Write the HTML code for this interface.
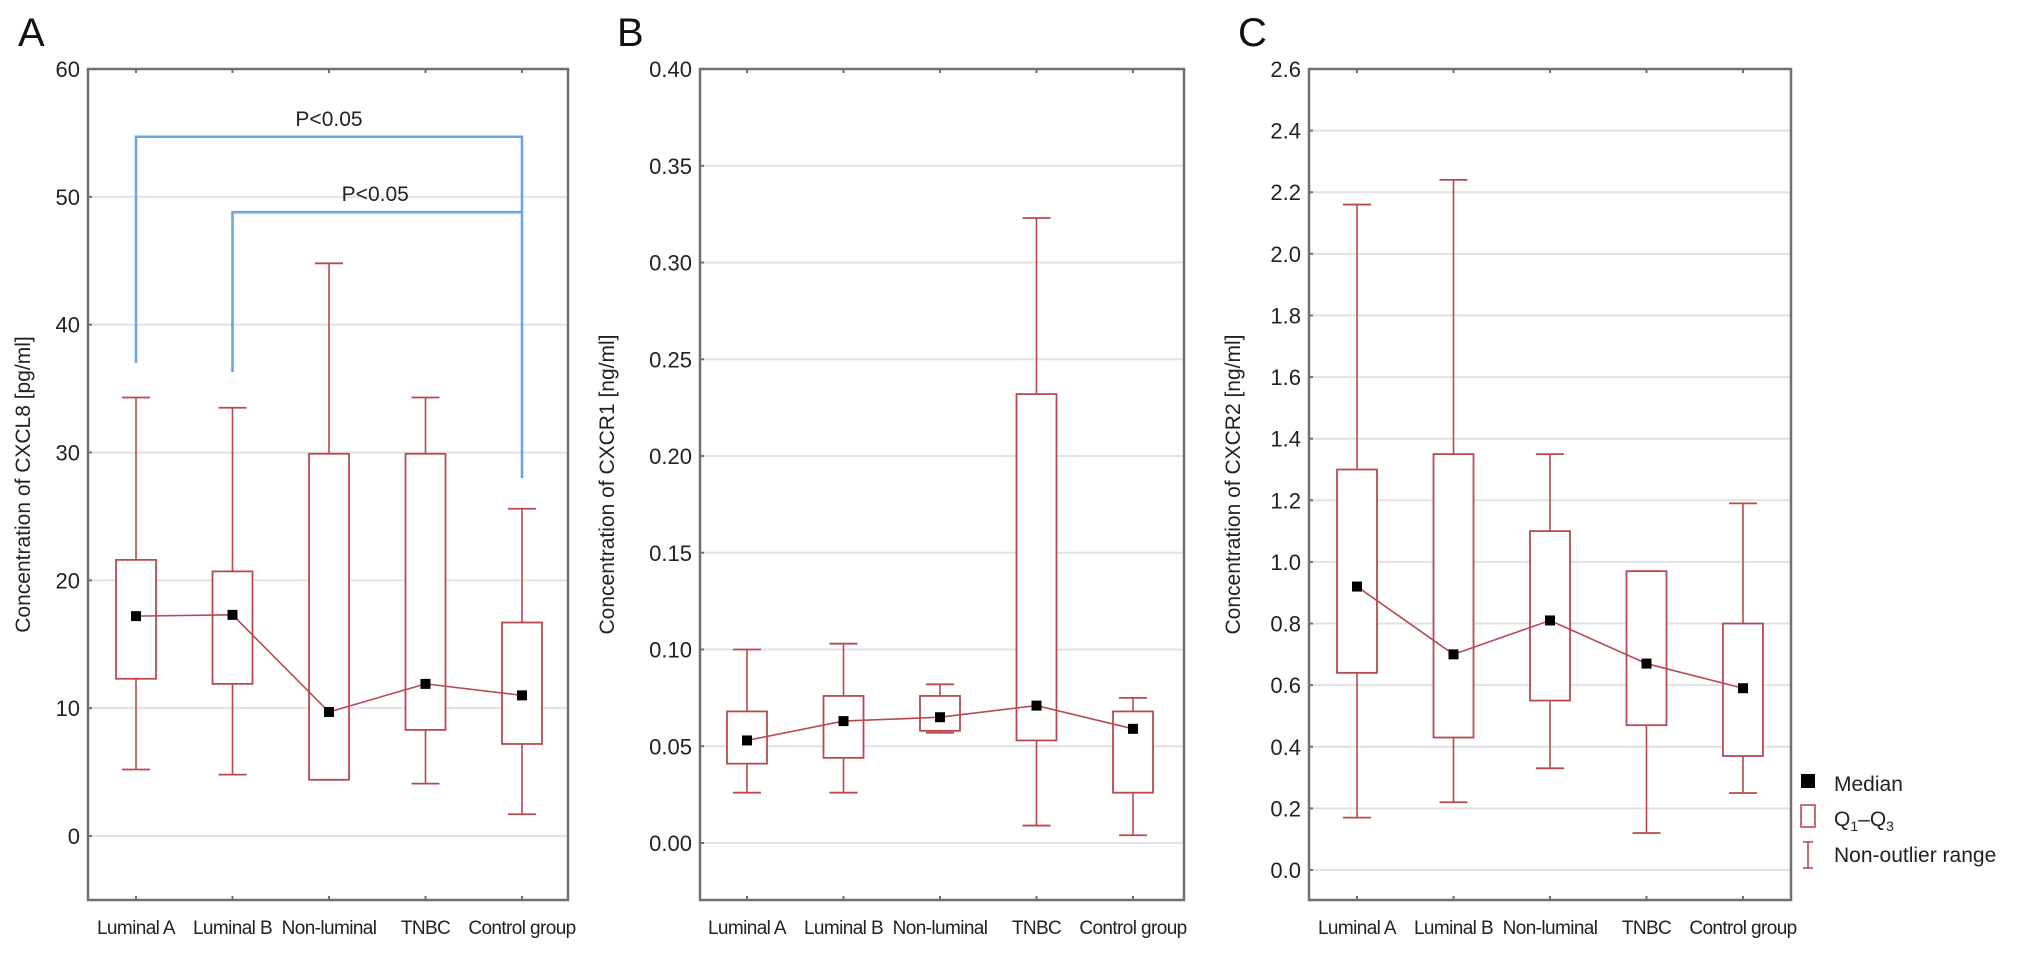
<!DOCTYPE html>
<html><head><meta charset="utf-8"><style>
html,body{margin:0;padding:0;background:#fff;}
svg{display:block;font-family:"Liberation Sans",sans-serif;}
</style></head>
<body>
<svg id="fig" width="2032" height="954" viewBox="0 0 2032 954"></svg>
<script>
const categories = ["Luminal A","Luminal B","Non-luminal","TNBC","Control group"];
// Panel A: CXCL8
const aMedian = [17.2, 17.3, 9.7, 11.9, 11.0];
const aQ1 = [12.3, 11.9, 4.4, 8.3, 7.2];
const aQ3 = [21.6, 20.7, 29.9, 29.9, 16.7];
const aMin = [5.2, 4.8, 4.4, 4.1, 1.7];
const aMax = [34.3, 33.5, 44.8, 34.3, 25.6];
const aTicks = [0, 10, 20, 30, 40, 50, 60];
const aTickLabels = ["0","10","20","30","40","50","60"];
// Panel B: CXCR1
const bMedian = [0.053, 0.063, 0.065, 0.071, 0.059];
const bQ1 = [0.041, 0.044, 0.058, 0.053, 0.026];
const bQ3 = [0.068, 0.076, 0.076, 0.232, 0.068];
const bMin = [0.026, 0.026, 0.057, 0.009, 0.004];
const bMax = [0.100, 0.103, 0.082, 0.323, 0.075];
const bTicks = [0, 0.05, 0.10, 0.15, 0.20, 0.25, 0.30, 0.35, 0.40];
const bTickLabels = ["0.00","0.05","0.10","0.15","0.20","0.25","0.30","0.35","0.40"];
// Panel C: CXCR2
const cMedian = [0.92, 0.70, 0.81, 0.67, 0.59];
const cQ1 = [0.64, 0.43, 0.55, 0.47, 0.37];
const cQ3 = [1.30, 1.35, 1.10, 0.97, 0.80];
const cMin = [0.17, 0.22, 0.33, 0.12, 0.25];
const cMax = [2.16, 2.24, 1.35, 0.97, 1.19];
const cTicks = [0,0.2,0.4,0.6,0.8,1.0,1.2,1.4,1.6,1.8,2.0,2.2,2.4,2.6];
const cTickLabels = ["0.0","0.2","0.4","0.6","0.8","1.0","1.2","1.4","1.6","1.8","2.0","2.2","2.4","2.6"];
// Significance brackets (panel A)
const bracketFrom = [0, 1];
const bracketTo = [4, 4];
const bracketLeftEnd = [37.0, 36.3];
const bracketTop = [54.7, 48.8];
const bracketRightEnd = [28.0, 48.8];
const bracketLabels = ["P<0.05", "P<0.05"];

const NS = "http://www.w3.org/2000/svg";
const svg = document.getElementById("fig");
const BOX = "#b84a4f", GRID = "#e2e2e2", FRAME = "#707070";
function mk(tag, attrs, parent, text){
  const e = document.createElementNS(NS, tag);
  for (const k in attrs) e.setAttribute(k, attrs[k]);
  if (text !== undefined) e.textContent = text;
  (parent || svg).appendChild(e);
  return e;
}

function panel(cfg){
  const g = mk("g", {});
  
  
  const L = cfg.left, R = cfg.right, T = 69, B = 900;
  const yS = v => cfg.y0 + (v - cfg.v0) * (cfg.yTop - cfg.y0) / (cfg.v1 - cfg.v0);
  const xS = i => cfg.x0 + i * 96.5;
  cfg.ticks.forEach((t, i) => {
    const y = yS(t);
    if (y > T + 2) {
      const gl = mk("line", {x1:L, x2:R, y1:y, y2:y, stroke:GRID, "stroke-width":2}, g);
      
      
    }
    const tk = mk("line", {x1:L, x2:L+4, y1:y, y2:y, stroke:FRAME, "stroke-width":2}, g);
    
    
    const tl = mk("text", {x:L-8, y:y+8, "text-anchor":"end", "font-size":22, fill:"#222"}, g, cfg.labels[i]);
    
    
  });
  const fr = mk("rect", {x:L, y:T, width:R-L, height:B-T, fill:"none", stroke:FRAME, "stroke-width":2.5}, g);
  
  
  categories.forEach((c, i) => {
    const x = xS(i);
    const t1 = mk("line", {x1:x, x2:x, y1:B, y2:B-4, stroke:FRAME, "stroke-width":2}, g);
    
    
    const t2 = mk("line", {x1:x, x2:x, y1:T, y2:T+4, stroke:FRAME, "stroke-width":2}, g);
    
    
    const xl = mk("text", {x:x, y:934, "text-anchor":"middle", "font-size":19, "letter-spacing":"-0.6", fill:"#222"}, g, c);
    
    
  });
  categories.forEach((c, i) => {
    const x = xS(i);
    const w = mk("line", {x1:x, x2:x, y1:yS(cfg.min[i]), y2:yS(cfg.max[i]), stroke:BOX, "stroke-width":1.6}, g);
    
    
    [cfg.min[i], cfg.max[i]].forEach(v => {
      const cap = mk("line", {x1:x-14, x2:x+14, y1:yS(v), y2:yS(v), stroke:BOX, "stroke-width":1.8}, g);
      
      
    });
    const bx = mk("rect", {x:x-20, y:yS(cfg.q3[i]), width:40, height:yS(cfg.q1[i]) - yS(cfg.q3[i]), fill:"#fff", stroke:BOX, "stroke-width":1.8}, g);
    
    
  });
  const pts = cfg.med.map((v, i) => xS(i) + "," + yS(v)).join(" ");
  const ml = mk("polyline", {points:pts, fill:"none", stroke:BOX, "stroke-width":1.6}, g);
  
  
  cfg.med.forEach((v, i) => {
    const m = mk("rect", {x:xS(i)-5, y:yS(v)-5, width:10, height:10, fill:"#000"}, g);
    
    
  });
  const at = mk("text", {x:0, y:0, "text-anchor":"middle", "font-size":21, fill:"#222", transform:`translate(${cfg.titleX},${(T+B)/2}) rotate(-90)`}, g, cfg.title);
  
  
  const pl = mk("text", {x:cfg.letterX, y:46, "font-size":40, fill:"#111"}, g, cfg.letter);
  
  
  return {xS, yS, g};
}

const A = panel({name:"panel-a-chart", left:88, right:568, x0:136, v0:0, y0:836, v1:60, yTop:69,
  ticks:aTicks, labels:aTickLabels, med:aMedian, q1:aQ1, q3:aQ3, min:aMin, max:aMax,
  title:"Concentration of CXCL8 [pg/ml]", titleX:30, letter:"A", letterX:18});
panel({name:"panel-b-chart", left:700, right:1184, x0:747, v0:0, y0:843, v1:0.40, yTop:69,
  ticks:bTicks, labels:bTickLabels, med:bMedian, q1:bQ1, q3:bQ3, min:bMin, max:bMax,
  title:"Concentration of CXCR1 [ng/ml]", titleX:614, letter:"B", letterX:617});
panel({name:"panel-c-chart", left:1309, right:1791, x0:1357, v0:0, y0:870, v1:2.6, yTop:69,
  ticks:cTicks, labels:cTickLabels, med:cMedian, q1:cQ1, q3:cQ3, min:cMin, max:cMax,
  title:"Concentration of CXCR2 [ng/ml]", titleX:1240, letter:"C", letterX:1238});

bracketFrom.forEach((f, k) => {
  const x1 = A.xS(f), x2 = A.xS(bracketTo[k]);
  const p = mk("polyline", {points:`${x1},${A.yS(bracketLeftEnd[k])} ${x1},${A.yS(bracketTop[k])} ${x2},${A.yS(bracketTop[k])} ${x2},${A.yS(bracketRightEnd[k])}`,
    fill:"none", stroke:"#6aa6e0", "stroke-width":2.6}, A.g);
  
  
  const t = mk("text", {x:(x1+x2)/2 + (k===0 ? 0 : -2), y:A.yS(bracketTop[k]) - 11, "text-anchor":"middle", "font-size":21, fill:"#222"}, A.g, bracketLabels[k]);
  
  
});

(function(){
  const g = document.createElementNS(NS, "g");
  
  
  svg.appendChild(g);
  g.innerHTML =
    '<rect x="1801" y="774" width="14" height="14" fill="#000"/>' +
    '<text x="1834" y="791" font-size="21" fill="#222">Median</text>' +
    '<rect x="1801" y="805" width="14" height="22" fill="#fff" stroke="#b84a4f" stroke-width="1.6"/>' +
    '<text x="1834" y="826" font-size="21" fill="#222">Q<tspan font-size="14" dy="5">1</tspan><tspan dy="-5">–Q</tspan><tspan font-size="14" dy="5">3</tspan></text>' +
    '<line x1="1808" x2="1808" y1="842" y2="868" stroke="#b84a4f" stroke-width="1.6"/>' +
    '<line x1="1803" x2="1813" y1="842" y2="842" stroke="#b84a4f" stroke-width="1.6"/>' +
    '<line x1="1803" x2="1813" y1="868" y2="868" stroke="#b84a4f" stroke-width="1.6"/>' +
    '<text x="1834" y="862" font-size="21" fill="#222">Non-outlier range</text>';
})();
</script>
</body></html>
